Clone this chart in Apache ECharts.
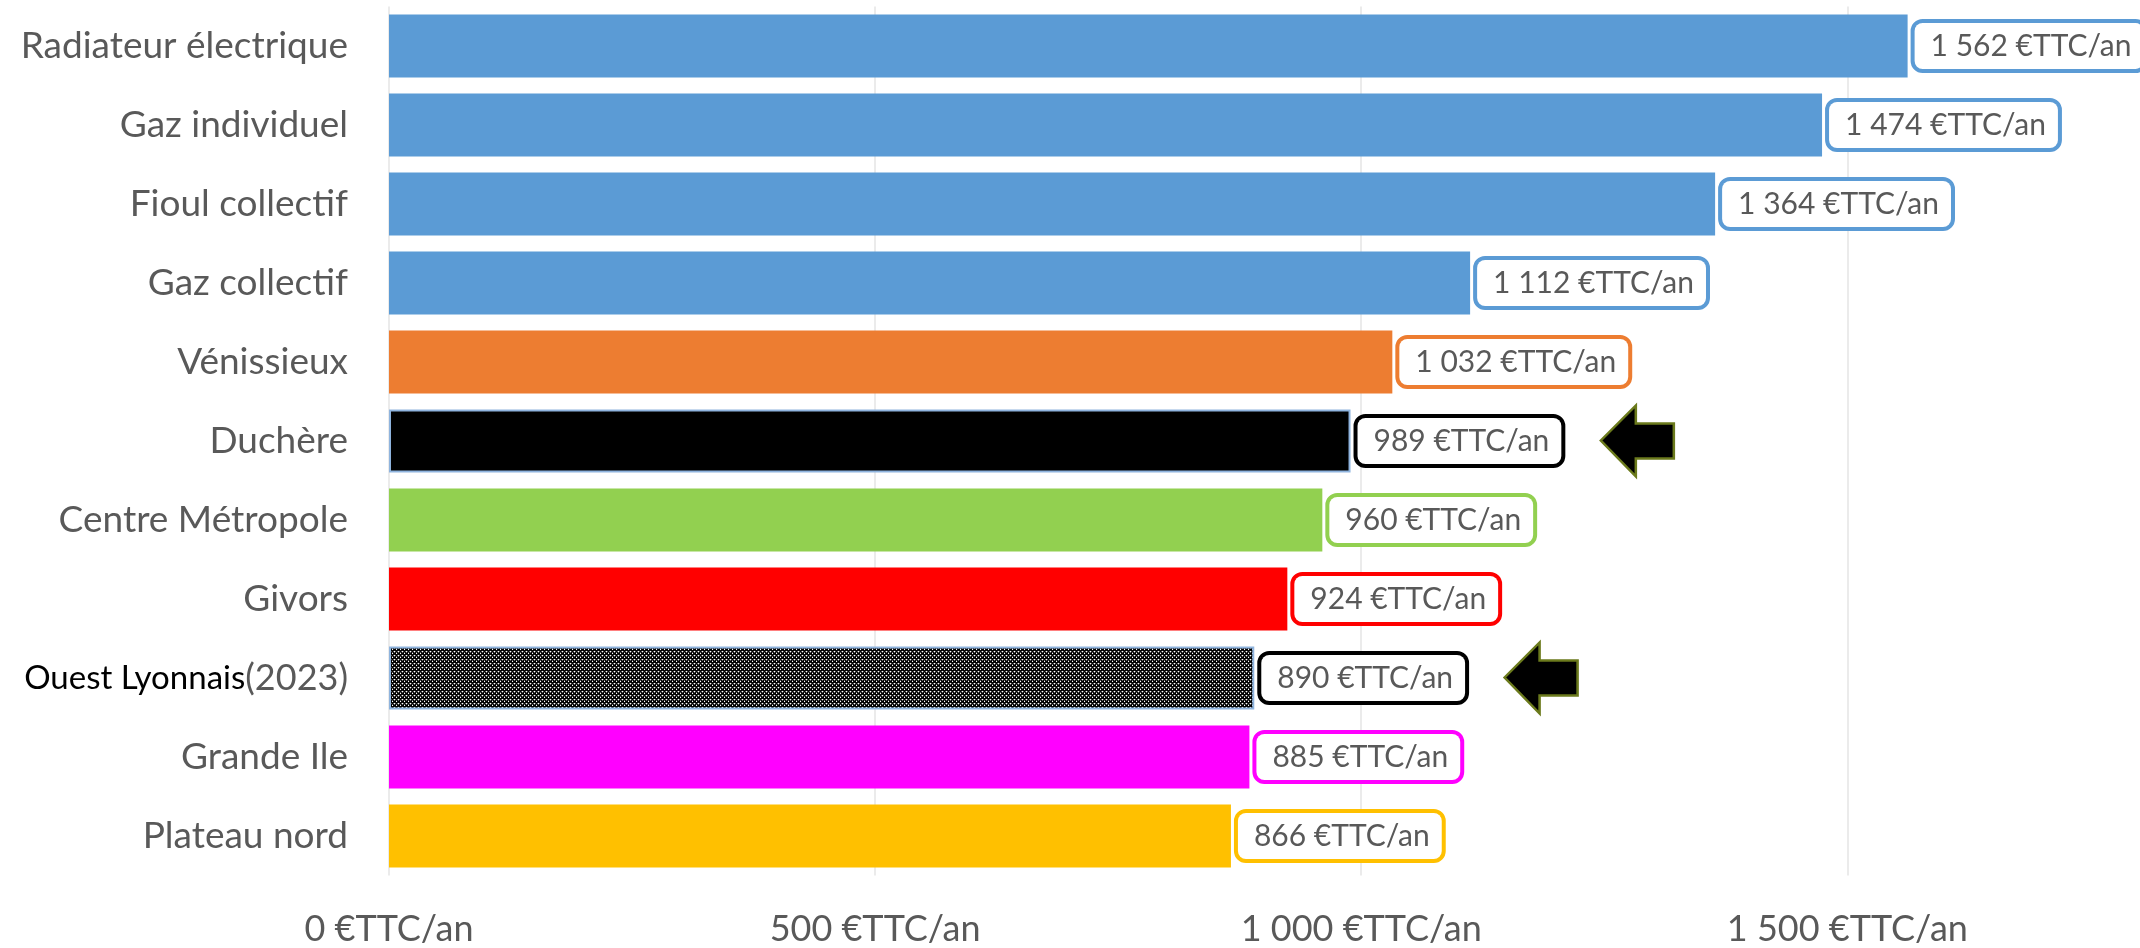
<!DOCTYPE html>
<html>
<head>
<meta charset="utf-8">
<script src="https://cdn.jsdelivr.net/npm/echarts@6/dist/echarts.min.js"></script>
<style>
html,body{margin:0;padding:0;background:#fff;}
#chart{width:2140px;height:948px;}
</style>
</head>
<body>
<div id="chart"></div>
<script>
// ---- data ----
var categories = ['Radiateur électrique','Gaz individuel','Fioul collectif','Gaz collectif','Vénissieux','Duchère','Centre Métropole','Givors','Ouest Lyonnais(2023)','Grande Ile','Plateau nord'];
var values = [1562,1474,1364,1112,1032,989,960,924,890,885,866];
var barColors = ['#5B9BD5','#5B9BD5','#5B9BD5','#5B9BD5','#ED7D31','#000000','#92D050','#FF0000','pattern','#FF00FF','#FFC000'];
var labelBorderColors = ['#5B9BD5','#5B9BD5','#5B9BD5','#5B9BD5','#ED7D31','#000000','#92D050','#FF0000','#000000','#FF00FF','#FFC000'];
var xTicks = [0,500,1000,1500];
var unit = '€TTC/an';
var arrowCategories = ['Duchère','Ouest Lyonnais(2023)'];

function fmt(n){
  return String(n).replace(/\B(?=(\d{3})+(?!\d))/g,' ');
}

// hatch pattern for the 2023 bar
var pc = document.createElement('canvas');
pc.width = 4; pc.height = 4;
var ctx = pc.getContext('2d');
ctx.fillStyle = '#ffffff'; ctx.fillRect(0,0,4,4);
ctx.strokeStyle = '#000'; ctx.lineWidth = 1.3;
ctx.beginPath();
for (var k=-4;k<=8;k+=2){ ctx.moveTo(k,4); ctx.lineTo(k+4,0); }
ctx.stroke();
ctx.fillStyle = '#ffffff';
ctx.fillRect(0,1,1,1); ctx.fillRect(2,3,1,1);

var FONT = 'Lato';
var data = values.map(function(v,i){
  var c = barColors[i] === 'pattern' ? {image: pc, repeat: 'repeat'} : barColors[i];
  var outlined = (barColors[i] === '#000000' || barColors[i] === 'pattern');
  return {
    value: v,
    itemStyle: {color: c, borderColor: outlined ? '#8fb4de' : null, borderWidth: outlined ? 2 : 0},
    label: {borderColor: labelBorderColors[i]}
  };
});

var arrowData = arrowCategories.map(function(cat){
  var i = categories.indexOf(cat);
  return {coord: [values[i] + 295, cat]};
});

var chart = echarts.init(document.getElementById('chart'));
chart.setOption({
  backgroundColor: '#ffffff',
  animation: false,
  grid: {left: 389, right: 1, top: 6.5, bottom: 72.5, containLabel: false},
  xAxis: {
    type: 'value', min: 0, max: 1800, interval: 500,
    axisLine: {show: false}, axisTick: {show: false},
    splitLine: {show: true, showMaxLine: false, lineStyle: {color: '#e4e4e4', width: 1.5}},
    axisLabel: {
      showMaxLabel: false, margin: 36,
      color: '#595959', fontSize: 36, fontFamily: FONT,
      formatter: function(v){ return xTicks.indexOf(v) >= 0 ? fmt(v) + ' ' + unit : ''; }
    }
  },
  yAxis: {
    type: 'category', data: categories, inverse: true,
    axisLine: {show: false}, axisTick: {show: false}, splitLine: {show: false},
    axisLabel: {
      margin: 41, color: '#595959', fontSize: 37, fontFamily: FONT,
      formatter: function(v){
        if (v === 'Ouest Lyonnais(2023)') return '{b|Ouest Lyonnais}{g|(2023)}';
        return v;
      },
      rich: {
        b: {color: '#000000', fontSize: 33, fontFamily: FONT},
        g: {color: '#595959', fontSize: 36, fontFamily: FONT}
      }
    }
  },
  series: [{
    type: 'bar', data: data, barWidth: 63,
    label: {
      show: true, position: 'right', distance: 7,
      formatter: function(p){ return fmt(p.value) + ' ' + unit; },
      color: '#595959', fontSize: 30, fontFamily: FONT, lineHeight: 32,
      backgroundColor: '#ffffff', borderWidth: 4, borderRadius: 8,
      padding: [7, 12, 7, 16]
    },
    markPoint: {
      symbol: 'path://M0,35 L35,0 L35,18 L73,18 L73,53 L35,53 L35,71 Z',
      symbolSize: [73, 71],
      itemStyle: {color: '#000000', borderColor: '#6b7a1c', borderWidth: 2.5},
      label: {show: false},
      data: arrowData
    }
  }]
});
</script>
</body>
</html>
